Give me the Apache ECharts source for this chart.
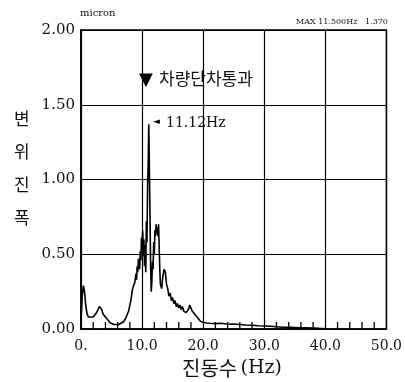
<!DOCTYPE html>
<html>
<head>
<meta charset="utf-8">
<script src="https://cdn.jsdelivr.net/npm/echarts@6/dist/echarts.min.js"></script>
<style>
  html, body { margin: 0; padding: 0; background: #fff; }
  #chart { width: 405px; height: 382px; }
</style>
</head>
<body>
<div id="chart"></div>
<script>
// 주파수 (Hz)
const freq = [
  0.0, 0.2, 0.4, 0.6, 0.8, 1.0, 1.2, 1.4, 1.6, 1.8, 2.0, 2.2, 2.4, 2.6, 2.8, 3.0, 3.2, 3.4, 3.6, 3.8,
  4.0, 4.2, 4.4, 4.6, 4.8, 5.0, 5.4, 5.8, 6.2, 6.6, 7.0, 7.4, 7.8, 8.0, 8.2, 8.4, 8.6, 8.8, 9.0, 9.1,
  9.2, 9.3, 9.4, 9.5, 9.6, 9.7, 9.8, 9.9, 10.0, 10.1, 10.2, 10.3, 10.4, 10.5, 10.6, 10.7, 10.8, 10.9, 11.0, 11.1,
  11.2, 11.3, 11.4, 11.5, 11.6, 11.7, 11.8, 11.9, 12.0, 12.1, 12.2, 12.3, 12.4, 12.5, 12.6, 12.7, 12.8, 12.9, 13.0, 13.2,
  13.4, 13.6, 13.8, 14.0, 14.2, 14.4, 14.6, 14.8, 15.0, 15.2, 15.4, 15.6, 15.8, 16.0, 16.2, 16.4, 16.6, 16.8, 17.0, 17.2,
  17.4, 17.6, 17.8, 18.0, 18.2, 18.4, 18.6, 18.8, 19.0, 19.2, 19.6, 20.0, 20.5, 21, 22, 23, 24, 25, 26, 27,
  28, 29, 30, 31, 32, 33, 34, 35, 36, 37, 38, 39, 40
];
// 변위진폭 (micron)
const amp = [
  0.06, 0.22, 0.29, 0.24, 0.15, 0.10, 0.08, 0.07, 0.08, 0.07, 0.08, 0.09, 0.10, 0.11, 0.13, 0.15, 0.16, 0.13, 0.10, 0.09,
  0.08, 0.08, 0.06, 0.05, 0.04, 0.04, 0.03, 0.03, 0.03, 0.04, 0.05, 0.08, 0.12, 0.16, 0.20, 0.26, 0.29, 0.31, 0.37, 0.33,
  0.42, 0.38, 0.47, 0.44, 0.40, 0.52, 0.46, 0.61, 0.55, 0.66, 0.49, 0.60, 0.42, 0.56, 0.38, 0.72, 0.58, 0.95, 1.10, 1.37,
  1.05, 0.75, 0.42, 0.25, 0.32, 0.45, 0.40, 0.58, 0.50, 0.66, 0.62, 0.70, 0.64, 0.68, 0.62, 0.70, 0.55, 0.40, 0.30, 0.27,
  0.35, 0.40, 0.38, 0.30, 0.27, 0.22, 0.24, 0.19, 0.21, 0.17, 0.19, 0.15, 0.17, 0.14, 0.16, 0.13, 0.15, 0.12, 0.13, 0.11,
  0.12, 0.13, 0.16, 0.14, 0.12, 0.11, 0.10, 0.09, 0.08, 0.07, 0.05, 0.045, 0.04, 0.038, 0.036, 0.038, 0.032, 0.033, 0.030, 0.027,
  0.025, 0.022, 0.020, 0.018, 0.015, 0.012, 0.012, 0.010, 0.008, 0.008, 0.007, 0.004, 0.002
];
const xTicks = ['0.', '10.0', '20.0', '30.0', '40.0', '50.0'];
const yTicks = ['0.00', '0.50', '1.00', '1.50', '2.00'];
// 아래축 보조눈금 위치 (2Hz 간격)
const minorTickHz = [2, 4, 6, 8, 12, 14, 16, 18, 22, 24, 26, 28, 32, 34, 36, 38, 42, 44, 46, 48];

const serif = '"DejaVu Serif", serif';
const kr = '"Noto Sans CJK KR", sans-serif';

const chart = echarts.init(document.getElementById('chart'));

chart.setOption({
  animation: false,
  grid: { left: 81, right: 18, top: 30, bottom: 53, show: true, borderColor: '#000', borderWidth: 1.5 },
  xAxis: {
    type: 'value', min: 0, max: 50, interval: 10,
    axisLine: { show: true, lineStyle: { color: '#000', width: 1.5 } },
    axisTick: { show: false },
    axisLabel: {
      color: '#111', fontFamily: serif, fontSize: 14, margin: 10,
      formatter: (v) => xTicks[Math.round(v / 10)]
    },
    splitLine: { show: true, lineStyle: { color: '#000', width: 1.2 } }
  },
  yAxis: {
    type: 'value', min: 0, max: 2, interval: 0.5,
    axisLine: { show: true, lineStyle: { color: '#000', width: 1.5 } },
    axisTick: { show: false },
    axisLabel: {
      color: '#111', fontFamily: serif, fontSize: 15, margin: 6,
      formatter: (v) => yTicks[Math.round(v / 0.5)]
    },
    splitLine: { show: true, lineStyle: { color: '#000', width: 1.2 } }
  },
  series: [{
    // 보조눈금: 축 위치에서 위로 짧은 선
    type: 'custom',
    silent: true,
    z: 5,
    data: minorTickHz.map((f) => [f, 0]),
    renderItem: (params, api) => {
      const p = api.coord([api.value(0), api.value(1)]);
      return {
        type: 'line',
        shape: { x1: p[0], y1: p[1], x2: p[0], y2: p[1] - 7 },
        style: { stroke: '#000', lineWidth: 1.3 }
      };
    }
  }, {
    type: 'line',
    data: freq.map((f, i) => [f, amp[i]]),
    symbol: 'none',
    lineStyle: { color: '#000', width: 1.6 }
  }],
  graphic: [
    { type: 'text', left: 80, top: 8, style: { text: 'micron', font: '10px ' + serif, fill: '#111' } },
    { type: 'text', left: 296, top: 18, style: { text: 'MAX 11.500Hz   1.370', font: '8px ' + serif, fill: '#111' } },
    { type: 'text', left: 139, top: 71, style: { text: '▼', font: '18px "DejaVu Sans"', fill: '#000' } },
    { type: 'text', left: 159, top: 70, style: { text: '차량단차통과', font: '17px ' + kr, fill: '#111' } },
    { type: 'text', left: 153, top: 117, style: { text: '◄', font: '9px "DejaVu Sans"', fill: '#000' } },
    { type: 'text', left: 166, top: 116, style: { text: '11.12Hz', font: '14px ' + serif, fill: '#111' } },
    { type: 'text', left: 14, top: 102, style: { text: '변\n위\n진\n폭', font: '17px ' + kr, lineHeight: 33, fill: '#111' } },
    {
      type: 'text', left: 182, top: 358,
      style: {
        text: '{a|진동수} {b|(Hz)}',
        rich: {
          a: { fontFamily: kr, fontSize: 20, fill: '#111' },
          b: { fontFamily: serif, fontSize: 19, fill: '#111' }
        }
      }
    }
  ]
});
</script>
</body>
</html>
